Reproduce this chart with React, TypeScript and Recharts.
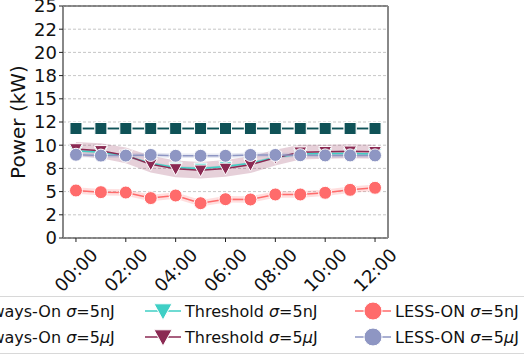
import React from "react";
import {
  Area,
  CartesianGrid,
  ComposedChart,
  Label,
  Line,
  ReferenceLine,
  XAxis,
  YAxis
} from "recharts";

// hour of day, one sample per hour
const hours = [0, 1, 2, 3, 4, 5, 6, 7, 8, 9, 10, 11, 12];
const xTicks = [0, 2, 4, 6, 8, 10, 12];
const yTicks = [0, 2.5, 5, 7.5, 10, 12.5, 15, 17.5, 20, 22.5, 25];

// power in kW
const alwaysOn5nJ = [11.8, 11.8, 11.8, 11.8, 11.8, 11.8, 11.8, 11.8, 11.8, 11.8, 11.8, 11.8, 11.8];
const alwaysOn5uJ = [11.8, 11.8, 11.8, 11.8, 11.8, 11.8, 11.8, 11.8, 11.8, 11.8, 11.8, 11.8, 11.8];
const threshold5nJ = [9.4, 9.25, 8.85, 8.05, 7.6, 7.5, 7.7, 8.05, 8.7, 9.05, 9.1, 9.1, 9.05];
const threshold5uJ = [9.6, 9.4, 8.9, 7.95, 7.45, 7.3, 7.5, 7.9, 8.65, 9.25, 9.3, 9.35, 9.3];
const lessOn5nJ = [5.12, 4.94, 4.9, 4.3, 4.58, 3.75, 4.18, 4.15, 4.69, 4.69, 4.87, 5.19, 5.41];
const lessOn5uJ = [8.97, 8.88, 8.88, 8.95, 8.86, 8.86, 8.86, 8.95, 8.95, 8.92, 8.9, 8.9, 8.9];

// half width of the shaded bands
const threshold5nJSpread = [0.15, 0.15, 0.15, 0.15, 0.15, 0.15, 0.15, 0.15, 0.15, 0.15, 0.15, 0.15, 0.15];
const threshold5uJSpread = [0.75, 0.8, 0.85, 0.9, 0.9, 0.9, 0.9, 0.9, 0.85, 0.8, 0.75, 0.75, 0.75];
const lessOn5nJSpread = [0.35, 0.35, 0.35, 0.35, 0.35, 0.35, 0.35, 0.35, 0.35, 0.35, 0.35, 0.35, 0.35];
const lessOn5uJSpread = [0.25, 0.25, 0.25, 0.25, 0.25, 0.25, 0.25, 0.25, 0.25, 0.25, 0.25, 0.25, 0.25];

const FONT = "DejaVu Sans";

type Shape = "square" | "triangle" | "circle";

interface SeriesDef {
  key: string;
  name: string;
  sigma: string;
  color: string;
  shape: Shape;
  values: number[];
  spread?: number[];
}

const series: SeriesDef[] = [
  { key: "ao5n", name: "Always-On", sigma: "5nJ", color: "#0f5257", shape: "square", values: alwaysOn5nJ },
  { key: "ao5u", name: "Always-On", sigma: "5μJ", color: "#0f5257", shape: "square", values: alwaysOn5uJ },
  { key: "th5n", name: "Threshold", sigma: "5nJ", color: "#3fcfc5", shape: "triangle", values: threshold5nJ, spread: threshold5nJSpread },
  { key: "th5u", name: "Threshold", sigma: "5μJ", color: "#8b2a53", shape: "triangle", values: threshold5uJ, spread: threshold5uJSpread },
  { key: "lo5n", name: "LESS-ON", sigma: "5nJ", color: "#ff6b6b", shape: "circle", values: lessOn5nJ, spread: lessOn5nJSpread },
  { key: "lo5u", name: "LESS-ON", sigma: "5μJ", color: "#8e96c3", shape: "circle", values: lessOn5uJ, spread: lessOn5uJSpread }
];

const rows = hours.map((hour, i) => {
  const row: Record<string, any> = { hour };
  series.forEach((s) => {
    row[s.key] = s.values[i];
    if (s.spread) row[s.key + "Band"] = [s.values[i] - s.spread[i], s.values[i] + s.spread[i]];
  });
  return row;
});

// matplotlib %.0f rounds half to even
const roundHalfEven = (v: number) => {
  const f = Math.floor(v);
  if (v - f === 0.5) return f % 2 === 0 ? f : f + 1;
  return Math.round(v);
};

function markerShape(shape: Shape, cx: number, cy: number, size: number, color: string) {
  const h = size / 2;
  if (shape === "square") {
    return <rect x={cx - h} y={cy - h} width={size} height={size} fill={color} stroke="#fff" strokeWidth={1} />;
  }
  if (shape === "triangle") {
    return (
      <polygon
        points={`${cx - h},${cy - h * 0.8} ${cx + h},${cy - h * 0.8} ${cx},${cy + h * 1.0}`}
        fill={color}
        stroke="#fff"
        strokeWidth={1}
      />
    );
  }
  return <circle cx={cx} cy={cy} r={h} fill={color} stroke="#fff" strokeWidth={1} />;
}

const makeDot = (s: SeriesDef) => (props: any) => {
  const { cx, cy, index } = props;
  if (cx == null || cy == null) return <g key={`${s.key}-${index}`} />;
  const size = s.shape === "square" ? 12 : 13;
  return <g key={`${s.key}-${index}`}>{markerShape(s.shape, cx, cy, size, s.color)}</g>;
};

const XTick = (props: any) => {
  const { x, y, payload } = props;
  const label = `${String(payload.value).padStart(2, "0")}:00`;
  return (
    <g transform={`translate(${x},${y + 26})`}>
      <text
        transform="rotate(-45)"
        textAnchor="middle"
        dominantBaseline="central"
        fontFamily={FONT}
        fontSize={18}
        fill="#111"
      >
        {label}
      </text>
    </g>
  );
};

function LegendBox() {
  const colLeft = [-65, 144, 354];
  const rowY = [310, 336];
  return (
    <div
      style={{
        position: "absolute",
        left: -120,
        top: 296,
        width: 764,
        height: 56,
        border: "1px solid #d8d8d8",
        borderRadius: 3,
        background: "#fff",
        fontFamily: FONT,
        fontSize: 16,
        color: "#111"
      }}
    >
      {series.map((s, i) => {
        const col = Math.floor(i / 2);
        const row = i % 2;
        const left = colLeft[col] + 120;
        const top = rowY[row] - 296 - 10;
        return (
          <div key={s.key} style={{ position: "absolute", left, top, height: 20, display: "flex", alignItems: "center", whiteSpace: "nowrap" }}>
            <svg width={36} height={20} style={{ marginRight: 4 }}>
              <line x1={0} y1={10} x2={36} y2={10} stroke={s.color} strokeWidth={1.5} />
              {markerShape(s.shape, 18, 10, 18, s.color)}
            </svg>
            <span>
              {s.name} <i>σ</i>=5{s.sigma.slice(1, -1) === "μ" ? <i>μ</i> : "n"}J
            </span>
          </div>
        );
      })}
    </div>
  );
}

export default function App() {
  return (
    <div style={{ position: "absolute", left: 0, top: 0, width: 524, height: 356, overflow: "hidden", background: "#fff" }}>
      <ComposedChart width={524} height={356} data={rows} margin={{ top: 6, right: 136, bottom: 0, left: 0 }}>
        <CartesianGrid vertical={false} stroke="#b8b8b8" strokeDasharray="3 2" strokeWidth={0.8} />
        <XAxis
          dataKey="hour"
          type="number"
          domain={[-0.52, 12.52]}
          ticks={xTicks}
          allowDataOverflow
          height={118}
          axisLine={false}
          tickLine={{ stroke: "#222", strokeWidth: 1 }}
          tickSize={4}
          tickMargin={2}
          interval={0}
          tick={<XTick />}
        />
        <YAxis
          type="number"
          domain={[0, 25]}
          ticks={yTicks}
          width={63}
          axisLine={false}
          tickLine={{ stroke: "#222", strokeWidth: 1 }}
          tickSize={4}
          tickMargin={2}
          interval={0}
          tickFormatter={(v: number) => String(roundHalfEven(v))}
          tick={{ fontFamily: FONT, fontSize: 18, fill: "#111" }}
        >
          <Label
            value="Power (kW)"
            angle={-90}
            position="insideLeft"
            offset={18}
            style={{ textAnchor: "middle", fontFamily: FONT, fontSize: 20, fill: "#111" }}
          />
        </YAxis>
        {series.map((s) =>
          s.spread ? (
            <Area
              key={s.key + "Band"}
              dataKey={s.key + "Band"}
              type="linear"
              stroke="none"
              fill={s.color}
              fillOpacity={0.22}
              dot={false}
              activeDot={false}
              isAnimationActive={false}
            />
          ) : null
        )}
        {series.map((s) => (
          <Line
            key={s.key}
            dataKey={s.key}
            type="linear"
            stroke={s.color}
            strokeWidth={1.5}
            dot={makeDot(s)}
            activeDot={false}
            isAnimationActive={false}
          />
        ))}
        <ReferenceLine y={25} stroke="#222" strokeWidth={1.2} />
        <ReferenceLine y={0} stroke="#222" strokeWidth={1.2} />
        <ReferenceLine x={-0.52} stroke="#888" strokeWidth={2} />
        <ReferenceLine x={12.52} stroke="#888" strokeWidth={2} />
      </ComposedChart>
      <LegendBox />
    </div>
  );
}
